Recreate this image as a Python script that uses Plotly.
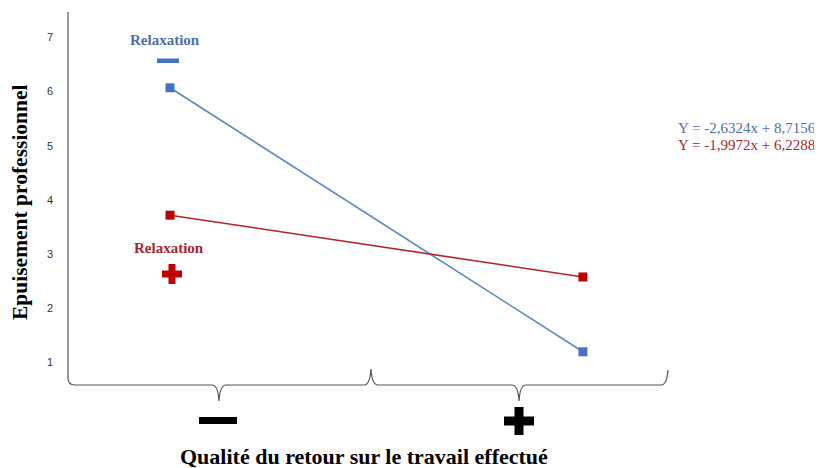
import plotly.graph_objects as go

# ---- data ----
feedback_levels = [1, 2]            # 1 = "-" quality, 2 = "+" quality
relax_low = [6.07, 1.20]            # blue series (Relaxation -)
relax_high = [3.72, 2.58]           # red series (Relaxation +)
y_ticks = [1, 2, 3, 4, 5, 6, 7]
eq_low = "Y = -2,6324x + 8,7156"
eq_high = "Y = -1,9972x + 6,2288"

BLUE_LINE = "#5B87C5"
BLUE_MARK = "#4472C4"
BLUE_TEXT = "#4F6FA6"
RED_LINE = "#B0242A"
RED_MARK = "#C00000"
RED_TEXT = "#A3282C"

# page body has an 8px margin: figure is offset by 8px
W, H = 814, 460
L, T = 60, 4
PW, PH = 600, 373
R, B = W - L - PW, H - T - PH

# screen-pixel -> paper helpers (plot area on screen: x 68..668, y 12..385)
def px(x):
    return (x - 68) / PW


def py(y):
    return (385 - y) / PH


fig = go.Figure()
fig.add_trace(go.Scatter(x=feedback_levels, y=relax_low, mode="lines+markers",
                         line=dict(color=BLUE_LINE, width=1.6),
                         marker=dict(symbol="square", size=9, color=BLUE_MARK),
                         showlegend=False))
fig.add_trace(go.Scatter(x=feedback_levels, y=relax_high, mode="lines+markers",
                         line=dict(color=RED_LINE, width=1.6),
                         marker=dict(symbol="square", size=9, color=RED_MARK),
                         showlegend=False))

# axis line + brackets (decoration)
yb = 385
path = (
    f"M {px(68)},{py(12)} L {px(68)},{py(yb-7)} Q {px(68)},{py(yb)} {px(75)},{py(yb)} "
    f"L {px(212)},{py(yb)} Q {px(218)},{py(yb)} {px(219)},{py(yb+16)} "
    f"Q {px(220)},{py(yb)} {px(226)},{py(yb)} "
    f"L {px(364)},{py(yb)} Q {px(370)},{py(yb)} {px(371)},{py(yb-16)} "
    f"Q {px(372)},{py(yb)} {px(378)},{py(yb)} "
    f"L {px(512)},{py(yb)} Q {px(518)},{py(yb)} {px(519)},{py(yb+16)} "
    f"Q {px(520)},{py(yb)} {px(526)},{py(yb)} "
    f"L {px(661)},{py(yb)} Q {px(667)},{py(yb)} {px(668)},{py(yb-15)}"
)
shapes = [dict(type="path", xref="paper", yref="paper", path=path,
               line=dict(color="#555555", width=1.2))]


def rect(x0, y0, x1, y1, color):
    return dict(type="rect", xref="paper", yref="paper",
                x0=px(x0), x1=px(x1), y0=py(y1), y1=py(y0),
                fillcolor=color, line=dict(width=0))


# bottom minus / plus
shapes.append(rect(199, 417, 237, 424, "black"))
shapes.append(rect(504, 416.5, 534, 425.5, "black"))
shapes.append(rect(514.5, 407, 523.5, 435, "black"))
# blue minus legend
shapes.append(rect(157, 58.5, 179, 63, BLUE_MARK))
# red plus legend
shapes.append(rect(162, 270.5, 182, 277.5, RED_MARK))
shapes.append(rect(168.5, 264, 175.5, 284, RED_MARK))

serif = "Liberation Serif, Times New Roman, serif"


def ann(x, y, text, size, color, xanchor="center", angle=0):
    return dict(xref="paper", yref="paper", x=px(x), y=py(y), text=text,
                xanchor=xanchor, yanchor="middle", textangle=angle,
                showarrow=False, font=dict(family=serif, size=size, color=color))


annotations = [
    ann(165, 40, "<b>Relaxation</b>", 15, BLUE_TEXT),
    ann(169, 248, "<b>Relaxation</b>", 15, RED_TEXT),
    ann(676, 128, eq_low, 15, BLUE_TEXT, xanchor="left"),
    ann(676, 145, eq_high, 15, RED_TEXT, xanchor="left"),
    ann(364, 457, "<b>Qualité du retour sur le travail effectué</b>", 22, "black"),
    ann(20, 202, "<b>Epuisement professionnel</b>", 21.5, "black", angle=-90),
]

fig.update_layout(
    width=W, height=H,
    margin=dict(l=L, r=R, t=T, b=B, autoexpand=False),
    paper_bgcolor="white", plot_bgcolor="white",
    shapes=shapes, annotations=annotations,
    xaxis=dict(range=[0.753, 2.206], visible=False, automargin=False),
    yaxis=dict(range=[0.5874, 7.468], tickvals=y_ticks, showgrid=False,
               zeroline=False, showline=False, ticklabelstandoff=14, automargin=False,
               tickfont=dict(family="Liberation Sans, Arial", size=11, color="#333333")),
)

fig.write_html("out.html")
